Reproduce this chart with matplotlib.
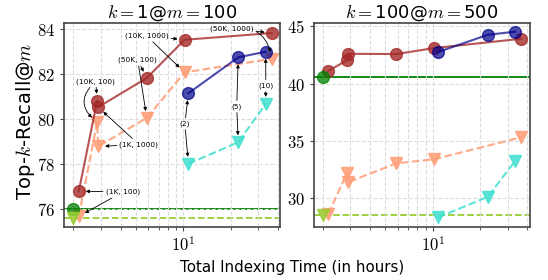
import numpy as np
import matplotlib
matplotlib.use('Agg')
import matplotlib.pyplot as plt
from matplotlib.ticker import FuncFormatter, FixedLocator

plt.rcParams['mathtext.fontset'] = 'cm'

# ---- data (time in hours, recall) ----
configs = ['(1K, 100)', '(10K, 100)', '(1K, 1000)', '(50K, 100)', '(10K, 1000)', '(50K, 1000)']
t_red = [2.17, 2.84, 2.88, 5.87, 10.2, 36.5]
t_blue = [10.8, 22.4, 33.5]
blue_lbl = ['(2)', '(5)', '(10)']
t_base = 2.0

# k=1 @ m=100
red1 = [76.78, 80.81, 80.52, 81.82, 83.52, 83.82]
salmon1 = [75.66, 79.85, 78.77, 80.04, 82.07, 82.67]
blue1 = [81.14, 82.74, 82.99]
cyan1 = [78.0, 78.96, 80.67]
base1 = 76.0
base1_b = 75.58

# k=100 @ m=500
red2 = [41.13, 42.03, 42.61, 42.59, 43.11, 43.92]
salmon2 = [28.63, 32.18, 31.4, 33.06, 33.41, 35.33]
blue2 = [42.76, 44.27, 44.54]
cyan2 = [28.34, 30.14, 33.29]
base2 = 40.63
base2_b = 28.55

fig, axes = plt.subplots(1, 2, figsize=(5.48, 2.8), dpi=100)
fig.subplots_adjust(left=0.117, right=0.967, bottom=0.189, top=0.918, wspace=0.154)

def draw(ax, red, salmon, blue, cyan, base, base_b):
    ax.axhline(base, color='green', lw=1.3, zorder=1)
    ax.axhline(base_b, color='yellowgreen', lw=1.3, ls='--', zorder=1)
    ax.plot(t_red, red, color='brown', marker='o', ms=8.5, lw=1.5, alpha=0.8, zorder=3)
    ax.plot(t_red, salmon, color='lightsalmon', marker='v', ms=8.5, lw=1.5, ls='--', alpha=0.9, zorder=2)
    ax.plot(t_blue, blue, color='darkblue', marker='o', ms=8.5, lw=1.5, alpha=0.7, zorder=3)
    ax.plot(t_blue, cyan, color='turquoise', marker='v', ms=8.5, lw=1.5, ls='--', alpha=0.85, zorder=2)
    ax.plot([t_base], [base], color='green', marker='o', ms=8.5, alpha=0.75, zorder=4)
    ax.plot([t_base], [base_b], color='yellowgreen', marker='v', ms=8.5, alpha=0.85, zorder=4)
    ax.set_xscale('log')
    ax.set_xlim(1.75, 41.5)
    ax.xaxis.set_major_locator(FixedLocator([10]))
    ax.xaxis.set_major_formatter(FuncFormatter(lambda v, _: r'$10^{%d}$' % round(np.log10(v))))
    ax.xaxis.set_minor_locator(FixedLocator([2, 3, 4, 5, 6, 7, 8, 9, 20, 30, 40]))
    ax.xaxis.set_minor_formatter(FuncFormatter(lambda v, _: ''))
    ax.yaxis.set_major_formatter(FuncFormatter(lambda v, _: r'$%g$' % v))
    ax.grid(True, which='both', ls='--', color='#dddddd', lw=0.8)
    ax.tick_params(labelsize=12, length=3, color='#444444')
    ax.tick_params(which='minor', length=2, color='#444444')
    for s in ax.spines.values():
        s.set_color('#444444')
        s.set_linewidth(1.2)

ax1, ax2 = axes
draw(ax1, red1, salmon1, blue1, cyan1, base1, base1_b)
draw(ax2, red2, salmon2, blue2, cyan2, base2, base2_b)

ax1.set_ylim(75.18, 84.27)
ax1.set_yticks([76, 78, 80, 82, 84])
ax2.set_ylim(27.5, 45.3)
ax2.set_yticks([30, 35, 40, 45])

ax1.set_title(r'$k{=}$1@$m{=}$100', fontsize=13, pad=3)
ax2.set_title(r'$k{=}$100@$m{=}$500', fontsize=13, pad=3)
ax1.set_ylabel(r'Top-$k$-Recall@$m$', fontsize=14)
ax1.yaxis.set_label_coords(-0.125, 0.52)
fig.text(0.533, 0.046, 'Total Indexing Time (in hours)', ha='center', va='center', fontsize=10.8)

# ---- annotations on the left panel ----
text_pos = {
    '(1K, 100)': (4.13, 76.74),
    '(10K, 100)': (2.78, 81.67),
    '(1K, 1000)': (5.23, 78.86),
    '(50K, 100)': (5.14, 82.62),
    '(10K, 1000)': (5.85, 83.7),
    '(50K, 1000)': (20.3, 84.03),
}
curved = {'(10K, 100)': 'arc3,rad=0.6', '(50K, 1000)': 'arc3,rad=-0.5'}

def arrow(ax, label, xy, xytext, conn='arc3', visible=True):
    ax.annotate(label, xy=xy, xytext=xytext, fontsize=5.3, ha='center', va='center',
                color='black' if visible else 'none',
                arrowprops=dict(arrowstyle='-|>', color='black', lw=0.6, mutation_scale=5,
                                shrinkA=0, shrinkB=5, connectionstyle=conn), zorder=5)

for i, c in enumerate(configs):
    tp = text_pos[c]
    arrow(ax1, c, (t_red[i], red1[i]), tp)
    arrow(ax1, c, (t_red[i], salmon1[i]), tp, conn=curved.get(c, 'arc3'), visible=False)

blue_text = [(10.25, 79.78), (21.9, 80.55), (33.5, 81.48)]
for i, c in enumerate(blue_lbl):
    arrow(ax1, c, (t_blue[i], blue1[i]), blue_text[i])
    arrow(ax1, c, (t_blue[i], cyan1[i]), blue_text[i], visible=False)

plt.savefig('out.png', dpi=100)
